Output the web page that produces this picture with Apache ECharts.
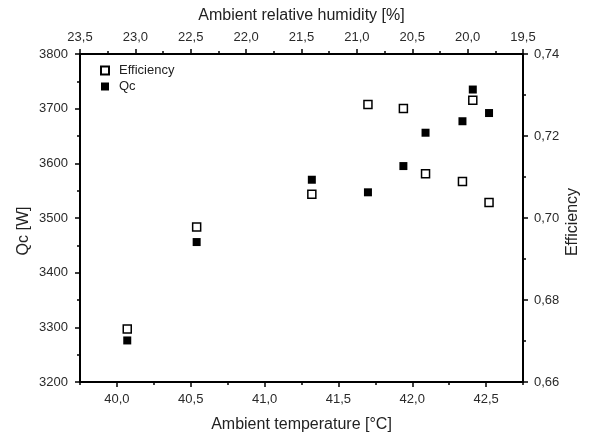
<!DOCTYPE html>
<html>
<head>
  <meta charset="utf-8" />
  <title>Qc and efficiency vs ambient temperature</title>
  <script src="https://cdn.jsdelivr.net/npm/echarts@6.0.0/dist/echarts.min.js"></script>
  <style>
    html, body { margin: 0; padding: 0; background: #fff; }
    #chart { width: 590px; height: 437px; }
  </style>
</head>
<body>
<div id="chart"></div>
<script type="text/javascript">
    // values
    var temperature = [40.07, 40.54, 41.32, 41.70, 41.94, 42.09, 42.34, 42.41, 42.52];
    var efficiency  = [0.6729, 0.6978, 0.7058, 0.7277, 0.7267, 0.7108, 0.7089, 0.7287, 0.7038];
    var qc          = [3276, 3456, 3570, 3547, 3595, 3656, 3677, 3735, 3692];

    var tempMajorTicks = [40.0, 40.5, 41.0, 41.5, 42.0, 42.5];
    var tempMinorTicks = [39.75, 40.25, 40.75, 41.25, 41.75, 42.25, 42.75];

    var FONT = '"Liberation Sans", Arial, sans-serif';
    var TXT = '#2a2a2a';

    function comma(digits) {
        return function (v) { return Number(v).toFixed(digits).replace('.', ','); };
    }

    var effData = temperature.map(function (t, i) { return [t, efficiency[i]]; });
    var qcData = temperature.map(function (t, i) { return [t, qc[i]]; });

    // v6 shrinks the grid to fit labels unless outerBoundsMode is off
    var gridRect = { left: 80, right: 67, top: 54, bottom: 55, containLabel: false, outerBoundsMode: 'none' };
    var lineStyle = { color: '#000', width: 2 };
    var tickStyle = { color: '#000', width: 1.5 };
    var nameStyle = { fontSize: 16, color: '#222', fontFamily: FONT };

    var chart = echarts.init(document.getElementById('chart'));
    var option = {
        backgroundColor: '#fff',
        animation: false,
        textStyle: { fontFamily: FONT },
        grid: [
            Object.assign({}, gridRect),
            Object.assign({}, gridRect)
        ],
        legend: {
            orient: 'vertical',
            left: 95,
            top: 59,
            itemWidth: 8,
            itemHeight: 8,
            itemGap: 3,
            textStyle: { fontFamily: FONT, fontSize: 13, color: '#222', padding: [0, 0, 0, 5] },
            data: ['Efficiency', 'Qc']
        },
        xAxis: [
            {
                // bottom: temperature (all data plotted here)
                type: 'value', gridIndex: 0, position: 'bottom',
                min: 39.75, max: 42.75,
                axisLine: { show: true, onZero: false, lineStyle: lineStyle },
                axisTick: { show: true, customValues: tempMajorTicks, length: 5, lineStyle: tickStyle },
                axisLabel: { customValues: tempMajorTicks, formatter: comma(1), color: TXT, fontSize: 13, margin: 11 },
                splitLine: { show: false },
                name: 'Ambient temperature [°C]', nameLocation: 'middle', nameGap: 35,
                nameTextStyle: nameStyle
            },
            {
                // top: relative humidity, reversed
                type: 'value', gridIndex: 0, position: 'top',
                min: 19.5, max: 23.5, interval: 0.5, inverse: true,
                axisLine: { show: true, onZero: false, lineStyle: lineStyle },
                axisTick: { show: true, length: 5, lineStyle: tickStyle },
                minorTick: { show: true, splitNumber: 2, length: 3, lineStyle: tickStyle },
                axisLabel: { formatter: comma(1), color: TXT, fontSize: 13, margin: 10 },
                splitLine: { show: false },
                name: 'Ambient relative humidity [%]', nameLocation: 'middle', nameGap: 30,
                nameTextStyle: nameStyle
            },
            {
                // minor ticks on the bottom axis
                type: 'value', gridIndex: 1, position: 'bottom',
                min: 39.75, max: 42.75,
                axisLine: { show: false, onZero: false },
                axisTick: { show: true, customValues: tempMinorTicks, length: 3, lineStyle: tickStyle },
                axisLabel: { show: false },
                splitLine: { show: false }
            }
        ],
        yAxis: [
            {
                type: 'value', gridIndex: 0, position: 'left',
                min: 3200, max: 3800, interval: 100,
                axisLine: { show: true, onZero: false, lineStyle: lineStyle },
                axisTick: { show: true, length: 5, lineStyle: tickStyle },
                minorTick: { show: true, splitNumber: 2, length: 3, lineStyle: tickStyle },
                axisLabel: { formatter: function (v) { return String(v); }, color: TXT, fontSize: 13, margin: 12 },
                splitLine: { show: false },
                name: 'Qc [W]', nameLocation: 'middle', nameGap: 48, nameRotate: 90,
                nameMoveOverlap: false,
                nameTextStyle: Object.assign({ padding: [0, 26, 0, 0] }, nameStyle)
            },
            {
                type: 'value', gridIndex: 0, position: 'right',
                min: 0.66, max: 0.74, interval: 0.02,
                axisLine: { show: true, onZero: false, lineStyle: lineStyle },
                axisTick: { show: true, length: 5, lineStyle: tickStyle },
                minorTick: { show: true, splitNumber: 2, length: 3, lineStyle: tickStyle },
                axisLabel: { formatter: comma(2), color: TXT, fontSize: 13, margin: 11 },
                splitLine: { show: false },
                name: 'Efficiency', nameLocation: 'middle', nameGap: 42, nameRotate: 90,
                nameMoveOverlap: false,
                nameTextStyle: Object.assign({ padding: [0, 8, 0, 0] }, nameStyle)
            },
            {
                type: 'value', gridIndex: 1, min: 0, max: 1,
                axisLine: { show: false }, axisTick: { show: false },
                axisLabel: { show: false }, splitLine: { show: false }
            }
        ],
        series: [
            {
                name: 'Efficiency', type: 'scatter',
                xAxisIndex: 0, yAxisIndex: 1,
                symbol: 'rect', symbolSize: 8,
                itemStyle: { color: '#fff', borderColor: '#000', borderWidth: 1.5, opacity: 1 },
                data: effData
            },
            {
                name: 'Qc', type: 'scatter',
                xAxisIndex: 0, yAxisIndex: 0,
                symbol: 'rect', symbolSize: 8,
                itemStyle: { color: '#000', opacity: 1 },
                data: qcData
            }
        ]
    };
    chart.setOption(option);
</script>
</body>
</html>
